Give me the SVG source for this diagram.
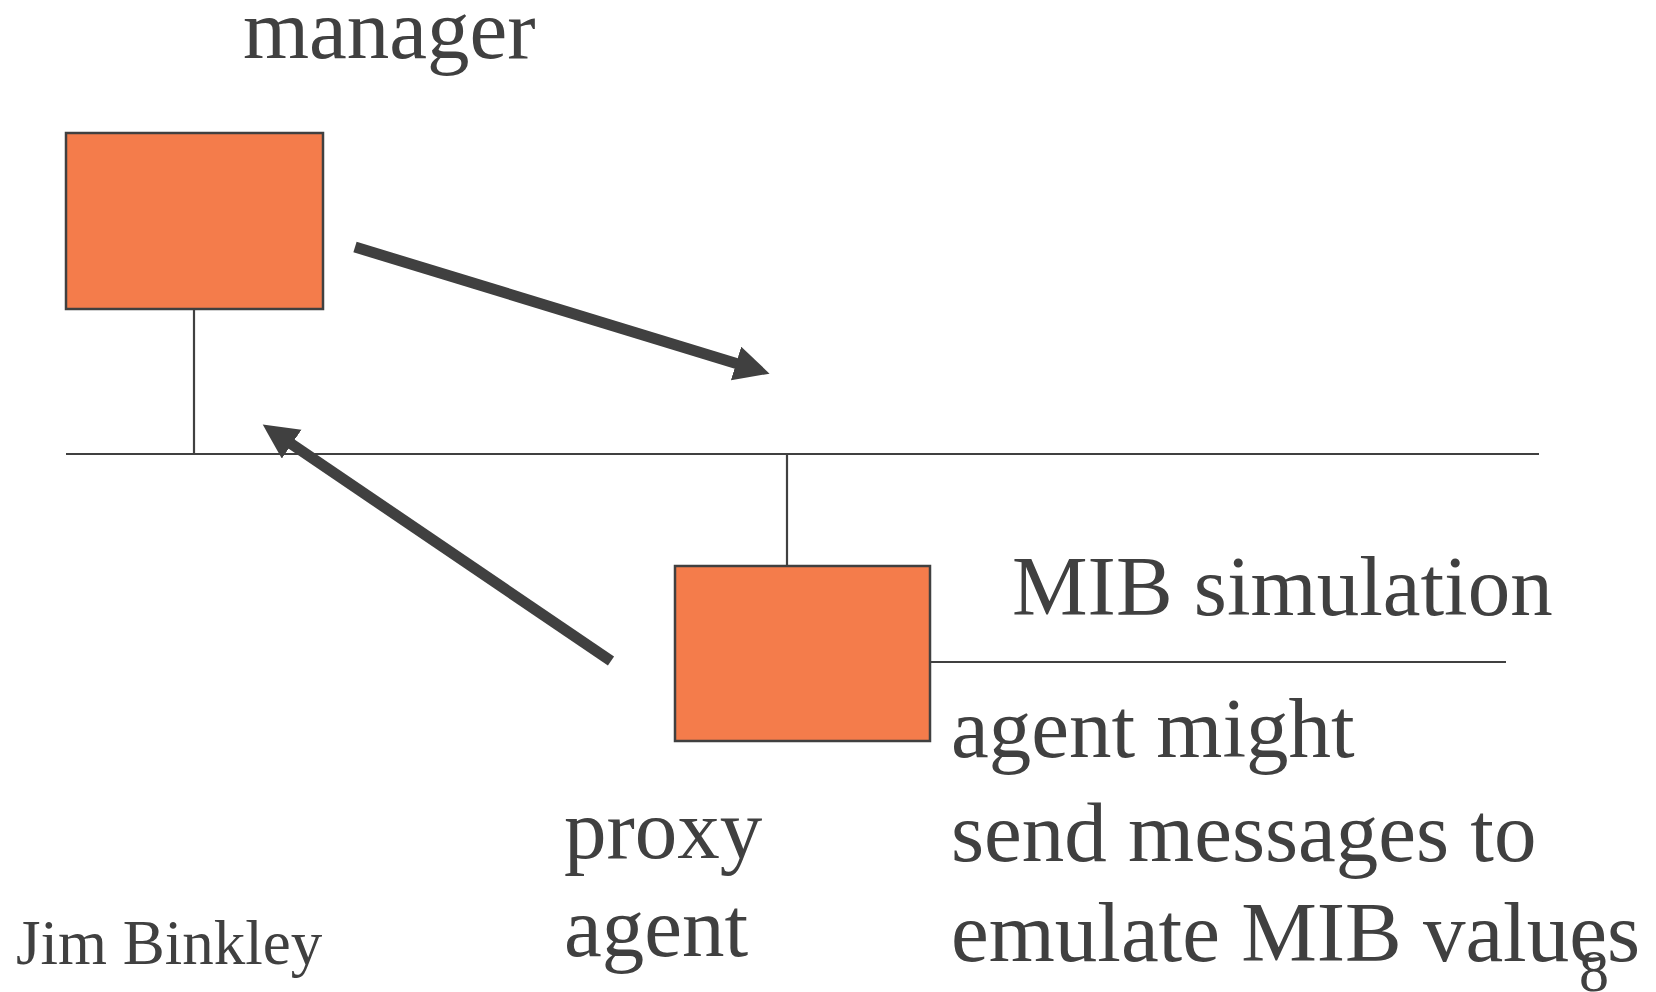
<svg xmlns="http://www.w3.org/2000/svg" width="1656" height="992" viewBox="0 0 1656 992">
<defs>
<style>
.box{fill:#F47C4B;stroke:#404040;stroke-width:2.5}
.wire{stroke:#404040;stroke-width:2.2;fill:none}
.arrow{stroke:#404040;stroke-width:11;fill:none}
.t{font-family:"Liberation Serif","Times New Roman",serif;fill:#404040;font-size:85px}
</style>
<marker id="head" markerUnits="userSpaceOnUse" markerWidth="36" markerHeight="36" refX="2" refY="17.5" orient="auto">
<path d="M0,0 L35,17.5 L0,35 z" fill="#404040"/>
</marker>
</defs>
<rect width="1656" height="992" fill="#ffffff"/>
<g id="connectors">
<line class="wire" x1="66" y1="454" x2="1539" y2="454"/>
<line class="wire" x1="194" y1="309" x2="194" y2="454"/>
<line class="wire" x1="787" y1="454" x2="787" y2="566"/>
<line class="wire" x1="930" y1="662" x2="1506" y2="662"/>
<line class="arrow" x1="355" y1="247" x2="738" y2="364" marker-end="url(#head)"/>
<line class="arrow" x1="611" y1="661" x2="290" y2="443" marker-end="url(#head)"/>
</g>
<g id="manager">
<rect class="box" x="66" y="133" width="257" height="176"/>
<text class="t" x="243" y="58">manager</text>
</g>
<g id="proxy">
<rect class="box" x="675" y="566" width="255" height="175"/>
<text class="t" x="564" y="858">proxy</text>
<text class="t" x="564" y="956">agent</text>
</g>
<g id="mib">
<text class="t" x="1012" y="615">MIB simulation</text>
<text class="t" x="951" y="757">agent might</text>
<text class="t" x="951" y="861">send messages to</text>
<text class="t" x="951" y="961" textLength="689" lengthAdjust="spacingAndGlyphs">emulate MIB values</text>
</g>
<g id="footer">
<text class="t" x="16" y="964" style="font-size:63px">Jim Binkley</text>
<text class="t" x="1579" y="991" style="font-size:60px">8</text>
</g>
</svg>
